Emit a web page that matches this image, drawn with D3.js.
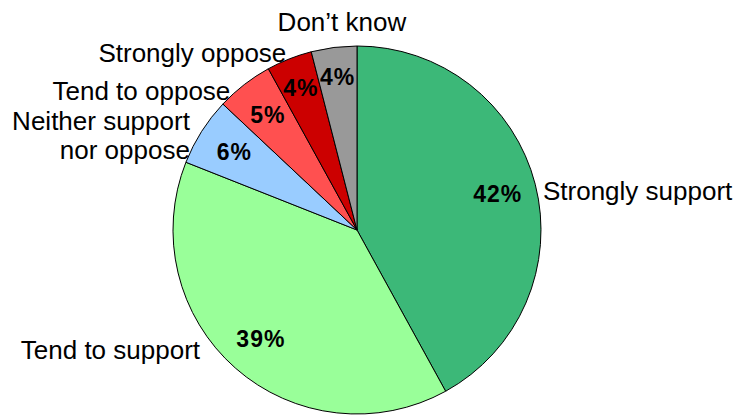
<!DOCTYPE html>
<html>
<head>
<meta charset="utf-8">
<script src="https://cdn.jsdelivr.net/npm/d3@7"></script>
<style>
  body { margin: 0; background: #fff; }
  svg { display: block; font-family: "Liberation Sans", Arial, sans-serif; }
</style>
</head>
<body>
<svg width="735" height="415"></svg>
<script>
var categories = ["Strongly support", "Tend to support", "Neither support\nnor oppose",
    "Tend to oppose", "Strongly oppose", "Don\u2019t know"];
var values = [42, 39, 6, 5, 4, 4];
var colors = ["#3cb878", "#99ff99", "#99ccff", "#ff5050", "#cc0000", "#999999"];

// label nudges from the arc anchor point (styling, not data)
var nudges = [[0, 8, "start"], [-30, -24, "end"], [-5, 8, "end"],
    [-9, 12, "end"], [0, 1, "end"], [9, -18, "middle"]];
// radius fraction for the percent labels
var pctRadius = [0.79, 0.79, 0.79, 0.79, 0.83, 0.84];

var svg = d3.select("svg");
var cx = 357, cy = 230, radius = 184;

var data = categories.map(function(c, i) {
    return { name: c, value: values[i], color: colors[i], nudge: nudges[i], pr: pctRadius[i] };
});

var pie = d3.pie()
    .sort(null)
    .value(function(d) { return d.value; });

var arc = d3.arc().innerRadius(0).outerRadius(radius);
var outer = d3.arc().innerRadius(radius + 8).outerRadius(radius + 8);

var g = svg.append("g").attr("transform", "translate(" + cx + "," + cy + ")");
var arcs = pie(data);

g.selectAll("path")
    .data(arcs)
    .enter().append("path")
    .attr("d", arc)
    .attr("fill", function(d) { return d.data.color; })
    .attr("stroke", "#000")
    .attr("stroke-width", 1);

g.selectAll("text.pct")
    .data(arcs)
    .enter().append("text")
    .attr("class", "pct")
    .attr("transform", function(d) {
        var r = radius * d.data.pr;
        var p = d3.arc().innerRadius(r).outerRadius(r).centroid(d);
        return "translate(" + p[0] + "," + p[1] + ")";
    })
    .attr("text-anchor", "middle")
    .attr("dy", "0.36em")
    .attr("font-size", 23)
    .attr("font-weight", "bold")
    .attr("letter-spacing", 1)
    .text(function(d) { return d.data.value + "%"; });

var labels = g.selectAll("text.lbl")
    .data(arcs)
    .enter().append("text")
    .attr("class", "lbl")
    .attr("font-size", 26)
    .attr("text-anchor", function(d) { return d.data.nudge[2]; })
    .attr("transform", function(d) {
        var p = outer.centroid(d);
        return "translate(" + (p[0] + d.data.nudge[0]) + "," + (p[1] + d.data.nudge[1]) + ")";
    });

labels.each(function(d) {
    var lines = d.data.name.split("\n");
    var t = d3.select(this);
    lines.forEach(function(line, i) {
        t.append("tspan")
            .attr("x", 0)
            .attr("dy", i === 0 ? (0.36 - (lines.length - 1) * 0.56) + "em" : "1.12em")
            .text(line);
    });
});
</script>
</body>
</html>
